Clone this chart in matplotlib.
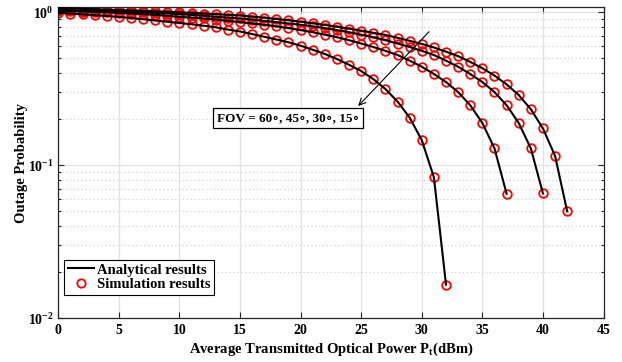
import numpy as np
import matplotlib
matplotlib.use("Agg")
import matplotlib.pyplot as plt
from matplotlib.ticker import LogLocator, FixedLocator, FixedFormatter, NullFormatter
from matplotlib.lines import Line2D

plt.rcParams['font.family'] = ['Liberation Serif', 'DejaVu Serif']
plt.rcParams['font.weight'] = 'bold'
plt.rcParams['mathtext.fontset'] = 'custom'
plt.rcParams['mathtext.rm'] = 'Liberation Serif:bold'
plt.rcParams['mathtext.it'] = 'Liberation Serif:bold:italic'
plt.rcParams['mathtext.bf'] = 'Liberation Serif:bold'

# Data (x = average transmitted optical power in dBm, step 1 dB)
fov_labels = ['60', '45', '30', '15']
x_60 = list(range(0, 43))
x_45 = list(range(0, 41))
x_30 = list(range(0, 38))
x_15 = list(range(0, 33))

p_60 = [1.067, 1.060, 1.054, 1.048, 1.041, 1.035, 1.029, 1.023, 1.015, 1.008,
        1.000, 0.991, 0.982, 0.973, 0.963, 0.953, 0.937, 0.922, 0.904, 0.887,
        0.868, 0.847, 0.827, 0.805, 0.782, 0.759, 0.735, 0.711, 0.681, 0.651,
        0.621, 0.589, 0.553, 0.517, 0.474, 0.431, 0.386, 0.338, 0.288, 0.2326,
        0.1742, 0.1153, 0.0500]
p_45 = [1.035, 1.031, 1.026, 1.021, 1.017, 1.011, 1.005, 0.999, 0.991, 0.982,
        0.972, 0.962, 0.949, 0.934, 0.923, 0.911, 0.896, 0.879, 0.862, 0.846,
        0.829, 0.810, 0.788, 0.765, 0.741, 0.714, 0.687, 0.657, 0.625, 0.593,
        0.560, 0.526, 0.483, 0.441, 0.395, 0.350, 0.301, 0.247, 0.189, 0.129,
        0.0655]
p_30 = [1.021, 1.017, 1.011, 1.005, 0.999, 0.991, 0.982, 0.972, 0.962, 0.949,
        0.934, 0.923, 0.911, 0.896, 0.879, 0.862, 0.846, 0.829, 0.810, 0.788,
        0.765, 0.741, 0.714, 0.687, 0.657, 0.625, 0.593, 0.560, 0.526, 0.483,
        0.441, 0.395, 0.350, 0.301, 0.247, 0.189, 0.129, 0.0652]
p_15 = [0.990, 0.981, 0.970, 0.959, 0.946, 0.933, 0.918, 0.901, 0.884, 0.867,
        0.851, 0.835, 0.817, 0.798, 0.771, 0.749, 0.721, 0.692, 0.664, 0.637,
        0.605, 0.569, 0.534, 0.495, 0.454, 0.413, 0.366, 0.315, 0.261, 0.205,
        0.146, 0.0835, 0.0166]

xticks = [0, 5, 10, 15, 20, 25, 30, 35, 40, 45]
yticks = [1e-2, 1e-1, 1e0]
ytick_labels = [r'$10^{-2}$', r'$10^{-1}$', r'$10^{0}$']

series = [(x_60, p_60), (x_45, p_45), (x_30, p_30), (x_15, p_15)]

fig = plt.figure(figsize=(6.22, 3.62), dpi=100)
ax = fig.add_axes([0.0937, 0.1207, 0.8766, 0.8608])

for xs, ps in series:
    ax.plot(xs, ps, color='black', lw=1.5, zorder=3)
    ax.plot(xs, ps, ls='none', marker='o', ms=6.2, mfc='none', mec='#ff0000',
            mew=1.3, zorder=2, clip_on=True)

ax.set_yscale('log')
ax.set_xlim(0, 45)
ax.set_ylim(0.01, 1.088)

ax.xaxis.set_major_locator(FixedLocator(xticks))
ax.yaxis.set_major_locator(FixedLocator(yticks))
ax.yaxis.set_major_formatter(FixedFormatter(ytick_labels))
ax.yaxis.set_minor_locator(LogLocator(base=10, subs=np.arange(2, 10)))
ax.yaxis.set_minor_formatter(NullFormatter())

ax.grid(True, which='major', color='#e2e2e2', lw=0.9, ls='-')
ax.grid(True, which='minor', axis='y', color='#cccccc', lw=0.8, ls=(0, (1, 2.5)))
ax.set_axisbelow(True)

ax.tick_params(which='both', direction='in', top=True, right=True, labelsize=10,
               width=0.8, colors='#262626')
ax.tick_params(which='major', length=4)
ax.tick_params(which='minor', length=2.5)
ax.tick_params(axis='x', pad=4)
for lab in ax.get_xticklabels() + ax.get_yticklabels():
    lab.set_fontweight('bold')
    lab.set_color('black')
for sp in ax.spines.values():
    sp.set_color('#262626')
    sp.set_linewidth(0.9)

ax.set_xlabel(r'Average Transmitted Optical Power P$_{\mathrm{t}}$(dBm)',
              fontsize=10.5, fontweight='bold', labelpad=3)
ax.set_ylabel('Outage Probability', fontsize=10.5, fontweight='bold', labelpad=0)

handles = [Line2D([], [], color='black', lw=1.5),
           Line2D([], [], ls='none', marker='o', ms=6, mfc='none', mec='#ff0000', mew=1.3)]
leg = ax.legend(handles, ['Analytical results', 'Simulation results'],
                loc='lower left', bbox_to_anchor=(0.006, 0.065), fancybox=False,
                edgecolor='black', framealpha=1, prop={'weight': 'bold', 'size': 10.5},
                borderpad=0.25, labelspacing=0.12, handlelength=1.75, handletextpad=0.25,
                borderaxespad=0.2)
leg.get_frame().set_linewidth(0.8)

ax.annotate('', xy=(24.75, 0.244), xytext=(30.6, 0.747),
            arrowprops=dict(arrowstyle='->', color='black', lw=0.8,
                            mutation_scale=12, shrinkA=0, shrinkB=0), zorder=5)
ax.text(18.98, 0.2047, 'FOV = 60\u2218, 45\u2218, 30\u2218, 15\u2218',
        ha='center', va='center', fontsize=9.5, fontweight='bold',
        family=['Liberation Serif', 'DejaVu Serif'],
        bbox=dict(boxstyle='square,pad=0.3', fc='white', ec='black', lw=0.9), zorder=6)

fig.savefig('out.png', dpi=100)
